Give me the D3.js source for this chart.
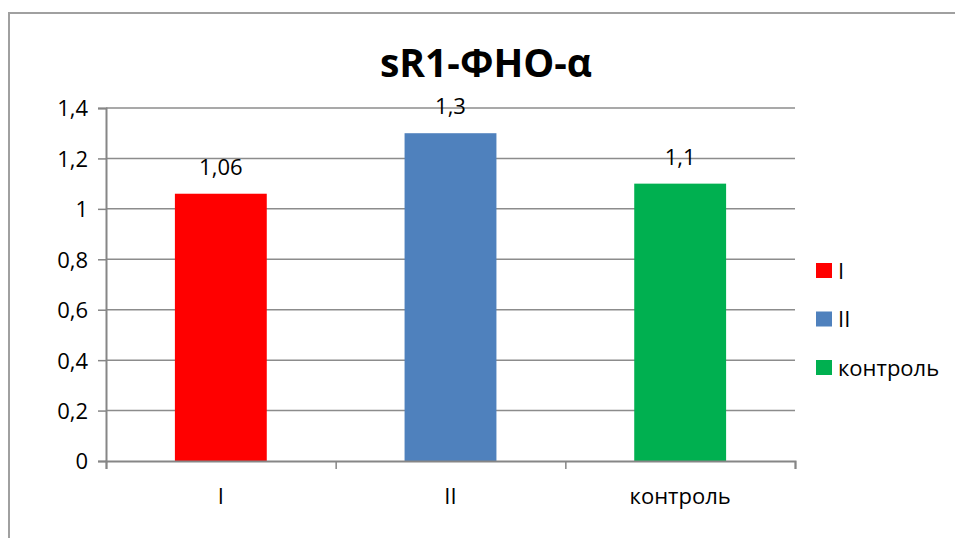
<!DOCTYPE html>
<html>
<head>
<meta charset="utf-8">
<script src="https://cdn.jsdelivr.net/npm/d3@7"></script>
<style>
  body { margin: 0; background: #fff; }
  text { font-family: "Open Sans", "Liberation Sans", sans-serif; fill: #000; }
</style>
</head>
<body>
<div id="chart"></div>
<script>
const categories = ["I", "II", "контроль"];
const values = [1.06, 1.3, 1.1];
const valueLabels = ["1,06", "1,3", "1,1"];
const colors = ["#ff0000", "#4f81bd", "#00b050"];
const yTicks = [0, 0.2, 0.4, 0.6, 0.8, 1, 1.2, 1.4];
const title = "sR1-ФНО-α";

const W = 955, H = 538;
const margin = { top: 108, left: 106, right: 160, bottom: 77 };
const width = W - margin.left - margin.right;
const height = H - margin.top - margin.bottom;

const svg = d3.select("#chart").append("svg")
    .attr("width", W)
    .attr("height", H);

// outer frame
svg.append("rect")
    .attr("x", 9).attr("y", 13)
    .attr("width", W + 20).attr("height", H + 20)
    .attr("fill", "none")
    .attr("stroke", "#a0a0a0")
    .attr("stroke-width", 2);

svg.append("text")
    .attr("x", 486)
    .attr("y", 77)
    .attr("text-anchor", "middle")
    .style("font-size", "39px")
    .style("font-weight", "bold")
    .text(title);

const g = svg.append("g")
    .attr("transform", `translate(${margin.left},${margin.top})`);

const x = d3.scaleBand().domain(categories).range([0, width]).paddingInner(0.6).paddingOuter(0.3);
const xTickScale = d3.scaleLinear().domain([0, categories.length]).range([0, width]);
const y = d3.scaleLinear().domain([0, 1.4]).range([height, 0]);

// gridlines
g.selectAll(".grid").data(yTicks.slice(1))
    .enter().append("line")
    .attr("x1", 0).attr("x2", width)
    .attr("y1", d => y(d)).attr("y2", d => y(d))
    .attr("stroke", "#8c8c8c")
    .attr("stroke-width", 1.5);

// bars
g.selectAll(".bar").data(values)
    .enter().append("rect")
    .attr("x", (d, i) => x(categories[i]))
    .attr("y", d => y(d))
    .attr("width", x.bandwidth())
    .attr("height", d => height - y(d))
    .attr("fill", (d, i) => colors[i]);

g.selectAll(".vlabel").data(values)
    .enter().append("text")
    .attr("x", (d, i) => x(categories[i]) + x.bandwidth() / 2)
    .attr("y", d => y(d) - 19)
    .attr("text-anchor", "middle")
    .style("font-size", "22px")
    .text((d, i) => valueLabels[i]);

// y axis
const yAxis = g.append("g")
    .call(d3.axisLeft(y).tickValues(yTicks).tickSize(8).tickPadding(10)
        .tickFormat(d => String(d).replace(".", ",")));
yAxis.select(".domain").attr("stroke", "#868686").attr("stroke-width", 2);
yAxis.selectAll(".tick line").attr("stroke", "#868686").attr("stroke-width", 1.5);
yAxis.selectAll("text").style("font-size", "22px").attr("dy", "0.36em");

// x axis
const xAxis = g.append("g")
    .attr("transform", `translate(0,${height})`)
    .call(d3.axisBottom(xTickScale).tickValues(d3.range(categories.length + 1)).tickSize(8).tickFormat(""));
xAxis.select(".domain").attr("stroke", "#868686").attr("stroke-width", 2);
xAxis.selectAll(".tick line").attr("stroke", "#868686").attr("stroke-width", 1.5);

g.selectAll(".xlabel").data(categories)
    .enter().append("text")
    .attr("x", d => x(d) + x.bandwidth() / 2)
    .attr("y", height + 43)
    .attr("text-anchor", "middle")
    .style("font-size", "22px")
    .text(d => d);

// legend
const legend = svg.append("g").attr("transform", "translate(816,271)");
const items = legend.selectAll(".item").data(categories)
    .enter().append("g")
    .attr("transform", (d, i) => `translate(0,${i * 48.5})`);
items.append("rect")
    .attr("x", 0).attr("y", -8)
    .attr("width", 16).attr("height", 15)
    .attr("fill", (d, i) => colors[i]);
items.append("text")
    .attr("x", 22).attr("y", 0)
    .attr("dy", "0.36em")
    .style("font-size", "22px")
    .text(d => d);
</script>
</body>
</html>
